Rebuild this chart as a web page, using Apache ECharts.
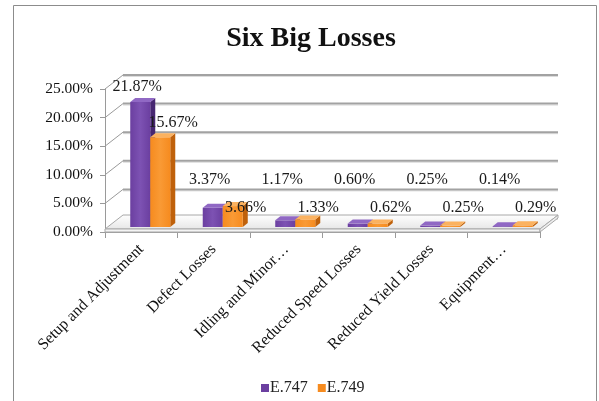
<!DOCTYPE html>
<html>
<head>
<meta charset="utf-8">
<script src="https://cdn.jsdelivr.net/npm/echarts@6/dist/echarts.min.js"></script>
<style>
html,body{margin:0;padding:0;background:#fff;}
#chart{width:599px;height:401px;}
</style>
</head>
<body>
<div id="chart"></div>
<script>
const categories = ['Setup and Adjustment', 'Defect Losses', 'Idling and Minor\u2026', 'Reduced Speed Losses', 'Reduced Yield Losses', 'Equipment\u2026'];
const seriesNames = ['E.747', 'E.749'];
const e747 = [0.2187, 0.0337, 0.0117, 0.0060, 0.0025, 0.0014];
const e749 = [0.1567, 0.0366, 0.0133, 0.0062, 0.0025, 0.0029];
const yTicks = [0, 0.05, 0.10, 0.15, 0.20, 0.25];

const SERIF = '"Liberation Serif", "Times New Roman", serif';
const DX = 18, DY = -14;          // depth of the 3D box
const SX = 9, SY = -5;            // bar front-face position inside the depth
const BD = 5, BDY = -4;           // bar depth
const colors = [
  {front: '#6b3fa0', light: '#7d52b3', side: '#472771', top: '#9068c4'},
  {front: '#f68b1f', light: '#f99a35', side: '#bf610b', top: '#fbb260'}
];

function fmt(v) { return (v * 100).toFixed(2) + '%'; }

function renderWall(params, api) {
  const cs = params.coordSys;
  const v = api.value(1);
  const y = api.coord([0, v])[1];
  const x0 = cs.x, x1 = cs.x + cs.width;
  return {
    type: 'group',
    children: [
      {type: 'line', shape: {x1: x0, y1: y, x2: x0 + DX, y2: y + DY}, style: {stroke: '#9a9a9a', lineWidth: 1}},
      {type: 'line', shape: {x1: x0 + DX, y1: y + DY + 1.5, x2: x1 + DX, y2: y + DY + 1.5}, style: {stroke: '#dcdcdc', lineWidth: 1}},
      {type: 'line', shape: {x1: x0 + DX, y1: y + DY, x2: x1 + DX, y2: y + DY}, style: {stroke: '#a2a2a2', lineWidth: 2}}
    ]
  };
}

function renderFloor(params, api) {
  const cs = params.coordSys;
  const y = api.coord([0, 0])[1];
  const x0 = cs.x, x1 = cs.x + cs.width;
  const t = 3;
  return {
    type: 'group',
    children: [
      {type: 'polygon', shape: {points: [[x0, y - t], [x1, y - t], [x1 + DX, y - t + DY], [x0 + DX, y - t + DY]]},
       style: {fill: {type: 'linear', x: 0, y: 1, x2: 0, y2: 0, colorStops: [{offset: 0, color: '#e6e6e6'}, {offset: 1, color: '#ffffff'}]}, stroke: '#a8a8a8', lineWidth: 1}},
      {type: 'polygon', shape: {points: [[x0, y - t], [x1, y - t], [x1, y], [x0, y]]},
       style: {fill: '#f4f4f4', stroke: '#a8a8a8', lineWidth: 1}},
      {type: 'polygon', shape: {points: [[x1, y - t], [x1 + DX, y - t + DY], [x1 + DX, y + DY], [x1, y]]},
       style: {fill: '#eeeeee', stroke: '#a8a8a8', lineWidth: 1}}
    ]
  };
}

function makeBarRenderer(sIdx) {
  return function (params, api) {
    const i = api.value(0), v = api.value(1);
    const base = api.coord([i, 0]);
    const top = api.coord([i, v]);
    const band = api.size([1, 0])[0];
    const w = band * 0.276;
    const cx = base[0] + SX;
    const x0 = sIdx === 0 ? cx - w : cx;
    const x1 = x0 + w;
    const yb = base[1] + SY;
    const yt = top[1] + SY;
    const c = colors[sIdx];
    const rowY = sIdx === 0 ? yb - 47 : yb - 19;
    const ly = yt < rowY - 30 ? yt - 15 : rowY;
    const lx = sIdx === 0 ? (x0 + x1) / 2 - 3 : (x0 + x1) / 2 + 13;
    return {
      type: 'group',
      children: [
        {type: 'polygon', shape: {points: [[x1, yt], [x1 + BD, yt + BDY], [x1 + BD, yb + BDY], [x1, yb]]}, style: {fill: c.side}},
        {type: 'rect', shape: {x: x0, y: yt, width: w, height: Math.max(yb - yt, 0.5)},
         style: {fill: {type: 'linear', x: 0, y: 0, x2: 1, y2: 0, colorStops: [{offset: 0, color: c.front}, {offset: 0.5, color: c.light}, {offset: 1, color: c.front}]}}},
        {type: 'polygon', shape: {points: [[x0, yt], [x1, yt], [x1 + BD, yt + BDY], [x0 + BD, yt + BDY]]}, style: {fill: c.top}},
        {type: 'text', style: {text: fmt(v), x: lx, y: ly, fill: '#1a1a1a', fontSize: 16, fontFamily: SERIF, align: 'center', verticalAlign: 'middle'}}
      ]
    };
  };
}

const chart = echarts.init(document.getElementById('chart'), null, {renderer: 'canvas'});
chart.setOption({
  animation: false,
  backgroundColor: '#ffffff',
  color: [colors[0].front, colors[1].front],
  title: {
    text: 'Six Big Losses',
    left: 306, top: 20, textAlign: 'center',
    textStyle: {fontFamily: SERIF, fontSize: 28, fontWeight: 'bold', color: '#111'}
  },
  legend: {
    data: seriesNames,
    left: 256, top: 375,
    icon: 'rect', itemWidth: 8, itemHeight: 8, itemGap: 10,
    textStyle: {fontFamily: SERIF, fontSize: 16, color: '#222', padding: [0, 0, 0, -4]}
  },
  graphic: [
    {type: 'rect', shape: {x: 13.5, y: 5.5, width: 583, height: 400}, style: {fill: 'none', stroke: '#8c8c8c', lineWidth: 1}, z: 0, silent: true}
  ],
  grid: {left: 105, right: 59, top: 89, bottom: 169, containLabel: false},
  xAxis: {
    type: 'category',
    data: categories,
    axisLine: {show: true, lineStyle: {color: '#9a9a9a', width: 1}},
    axisTick: {show: true, length: 6, lineStyle: {color: '#9a9a9a'}},
    axisLabel: {rotate: 45, interval: 0, margin: 15, fontFamily: SERIF, fontSize: 16, color: '#111'},
    splitLine: {show: false}
  },
  yAxis: {
    type: 'value',
    min: 0, max: 0.25, interval: 0.05,
    axisLine: {show: true, lineStyle: {color: '#9a9a9a'}},
    axisTick: {show: true, length: 5, lineStyle: {color: '#9a9a9a'}},
    axisLabel: {formatter: fmt, margin: 12, fontFamily: SERIF, fontSize: 15.5, color: '#111'},
    splitLine: {show: false}
  },
  series: [
    {name: 'wall', type: 'custom', renderItem: renderWall, data: yTicks.map(v => [0, v]), encode: {x: 0, y: 1}, z: 1, silent: true},
    {name: 'floor', type: 'custom', renderItem: renderFloor, data: [[0, 0]], encode: {x: 0, y: 1}, z: 2, silent: true},
    {name: seriesNames[0], type: 'custom', renderItem: makeBarRenderer(0), data: e747.map((v, i) => [i, v]), encode: {x: 0, y: 1}, z: 3, itemStyle: {color: colors[0].front}},
    {name: seriesNames[1], type: 'custom', renderItem: makeBarRenderer(1), data: e749.map((v, i) => [i, v]), encode: {x: 0, y: 1}, z: 4, itemStyle: {color: colors[1].front}}
  ]
});
</script>
</body>
</html>
